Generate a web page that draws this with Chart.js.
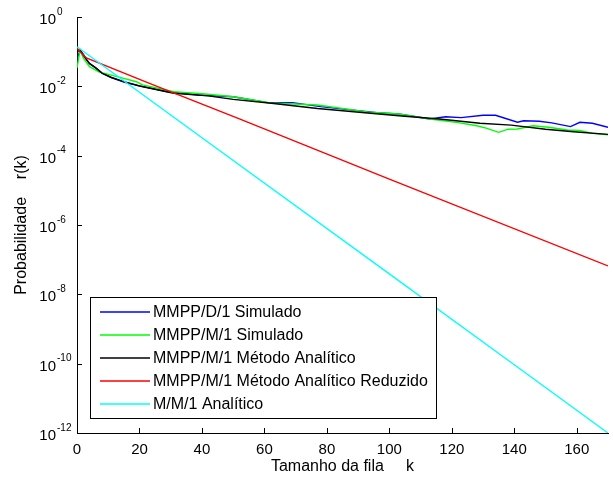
<!DOCTYPE html>
<html>
<head>
<meta charset="utf-8">
<script src="https://cdn.jsdelivr.net/npm/chart.js@4.4.0/dist/chart.umd.min.js"></script>
<style>
	html, body { margin: 0; padding: 0; background: #fff; }
</style>
</head>
<body>
<canvas id="chart" width="613" height="481"></canvas>
<script>
// values (k = queue size, p = probability)
const seriesLabels = [
	'MMPP/D/1 Simulado',
	'MMPP/M/1 Simulado',
	'MMPP/M/1 Método Analítico',
	'MMPP/M/1 Método Analítico Reduzido',
	'M/M/1 Analítico',
]
const seriesColors = ['#0000ff', '#00ff00', '#000000', '#ff0000', '#00ffff']

const kBlue = [0, 1, 2, 3, 4, 6, 8, 11, 15, 20, 29, 39, 50, 61, 69, 78, 96, 103, 113, 118, 123, 130, 134, 141, 143, 148, 152, 158, 161, 165, 170]
const pBlue = [0.06, 0.11, 0.085, 0.06, 0.046, 0.034, 0.024, 0.018, 0.0133, 0.0103, 0.007, 0.0056, 0.005, 0.0034, 0.0034, 0.0026, 0.00174, 0.00159, 0.00114, 0.00133, 0.00125, 0.00146, 0.00146, 0.00092, 0.00102, 0.00098, 0.00088, 0.00069, 0.00092, 0.00086, 0.00066]

const kGreen = [0, 1, 2, 4, 7, 11, 15, 19, 21, 31, 41, 50, 62, 77, 94, 103, 113, 122, 128, 131, 135, 138, 141, 146, 151, 157, 161, 165, 170]
const pGreen = [0.034, 0.112, 0.066, 0.037, 0.026, 0.021, 0.017, 0.0136, 0.011, 0.007, 0.006, 0.005, 0.0033, 0.0029, 0.00178, 0.00159, 0.00114, 0.0009, 0.00073, 0.00062, 0.00047, 0.00058, 0.00059, 0.00073, 0.00066, 0.00055, 0.00053, 0.00044, 0.0004]

const kBlack = [0, 1, 2, 3, 4, 6, 8, 11, 15, 20, 31, 42, 50, 63, 77, 94, 104, 116, 129, 139, 150, 159, 170]
const pBlack = [0.098, 0.112, 0.08, 0.06, 0.045, 0.034, 0.024, 0.018, 0.0136, 0.0102, 0.0063, 0.0053, 0.0042, 0.0032, 0.0023, 0.00167, 0.00139, 0.00114, 0.00086, 0.00076, 0.00058, 0.00049, 0.00041]

const kRed = [0, 1, 3, 23, 52, 100, 170]
const pRed = [0.128, 0.1, 0.066, 0.0123, 0.00115, 2.1e-5, 6.6e-8]

const kCyan = [0, 40, 100, 140, 170]
const pCyan = [0.139, 3.3e-4, 3.9e-8, 9.3e-11, 1e-12]

const xTicks = [0, 20, 40, 60, 80, 100, 120, 140, 160]
const yTicks = [1e-12, 1e-10, 1e-8, 1e-6, 1e-4, 1e-2, 1]

const xTitle = 'Tamanho da fila     k'
const yTitle = 'Probabilidade    r(k)'

const FONT = "'Liberation Sans', Arial, sans-serif"

function toPoints(ks, ps) {
	return ks.map((k, i) => ({ x: k, y: ps[i] }))
}

// MATLAB style: ticks inside the axes, 10^n labels, boxed legend
const axisDecor = {
	id: 'axisDecor',
	afterDraw(chart) {
		const { ctx, chartArea: a, scales } = chart
		const x = scales.x
		const y = scales.y
		ctx.save()
		ctx.strokeStyle = '#000'
		ctx.lineWidth = 1
		ctx.beginPath()
		x.ticks.forEach(t => {
			const px = Math.round(x.getPixelForValue(t.value)) + 0.5
			ctx.moveTo(px, a.bottom)
			ctx.lineTo(px, a.bottom - 5)
		})
		y.ticks.forEach(t => {
			const py = Math.round(y.getPixelForValue(t.value)) + 0.5
			ctx.moveTo(a.left, py)
			ctx.lineTo(a.left + 5, py)
		})
		ctx.stroke()

		ctx.fillStyle = '#000'
		ctx.textBaseline = 'middle'
		y.ticks.forEach(t => {
			const py = y.getPixelForValue(t.value)
			const exp = Math.round(Math.log10(t.value))
			ctx.font = '15px ' + FONT
			ctx.textAlign = 'right'
			ctx.fillText('10', 56, py + 3)
			ctx.font = '10px ' + FONT
			ctx.textAlign = 'left'
			ctx.fillText(String(exp), 57, py - 5)
		})

		// legend
		const box = { left: 90.5, top: 297.5, width: 346, height: 121 }
		ctx.fillStyle = '#fff'
		ctx.fillRect(box.left, box.top, box.width, box.height)
		ctx.strokeStyle = '#000'
		ctx.lineWidth = 1
		ctx.strokeRect(box.left, box.top, box.width, box.height)
		ctx.font = '16px ' + FONT
		ctx.textAlign = 'left'
		chart.data.datasets.forEach((ds, i) => {
			const ry = 312 + i * 22.9
			ctx.strokeStyle = ds.borderColor
			ctx.lineWidth = 1.5
			ctx.beginPath()
			ctx.moveTo(100, Math.round(ry))
			ctx.lineTo(150, Math.round(ry))
			ctx.stroke()
			ctx.fillStyle = '#000'
			ctx.fillText(ds.label, 153, ry + 1)
		})
		ctx.restore()
	},
}

const ctx = document.getElementById('chart').getContext('2d')
const allK = [kBlue, kGreen, kBlack, kRed, kCyan]
const allP = [pBlue, pGreen, pBlack, pRed, pCyan]
new Chart(ctx, {
	type: 'line',
	data: {
		datasets: seriesLabels.map((label, i) => ({
			label: label,
			data: toPoints(allK[i], allP[i]),
			borderColor: seriesColors[i],
			order: 5 - i,
		})),
	},
	options: {
		responsive: false,
		animation: false,
		layout: { padding: { top: 17, right: 5, left: 0, bottom: 0 } },
		plugins: {
			legend: { display: false },
			tooltip: { enabled: false },
		},
		elements: {
			point: { radius: 0 },
			line: { borderWidth: 1.4, tension: 0, fill: false },
		},
		scales: {
			x: {
				type: 'linear',
				min: 0,
				max: 170,
				afterBuildTicks: s => {
					s.ticks = xTicks.map(v => ({ value: v }))
				},
				afterFit: s => {
					s.height = 48
				},
				grid: { display: false, drawTicks: false },
				border: { display: true, color: '#000', width: 1 },
				ticks: {
					color: '#000',
					font: { family: FONT, size: 15 },
					padding: 8,
					maxRotation: 0,
					autoSkip: false,
				},
				title: {
					display: true,
					text: xTitle,
					color: '#000',
					font: { family: FONT, size: 16 },
					padding: { top: 0, bottom: 5 },
				},
			},
			y: {
				type: 'logarithmic',
				min: 1e-12,
				max: 1,
				afterBuildTicks: s => {
					s.ticks = yTicks.map(v => ({ value: v }))
				},
				afterFit: s => {
					s.width = 77
				},
				grid: { display: false, drawTicks: false },
				border: { display: true, color: '#000', width: 1 },
				ticks: { display: false },
				title: {
					display: true,
					text: yTitle,
					color: '#000',
					font: { family: FONT, size: 16 },
					padding: { top: 12, bottom: 0 },
				},
			},
		},
	},
	plugins: [axisDecor],
})
</script>
</body>
</html>
